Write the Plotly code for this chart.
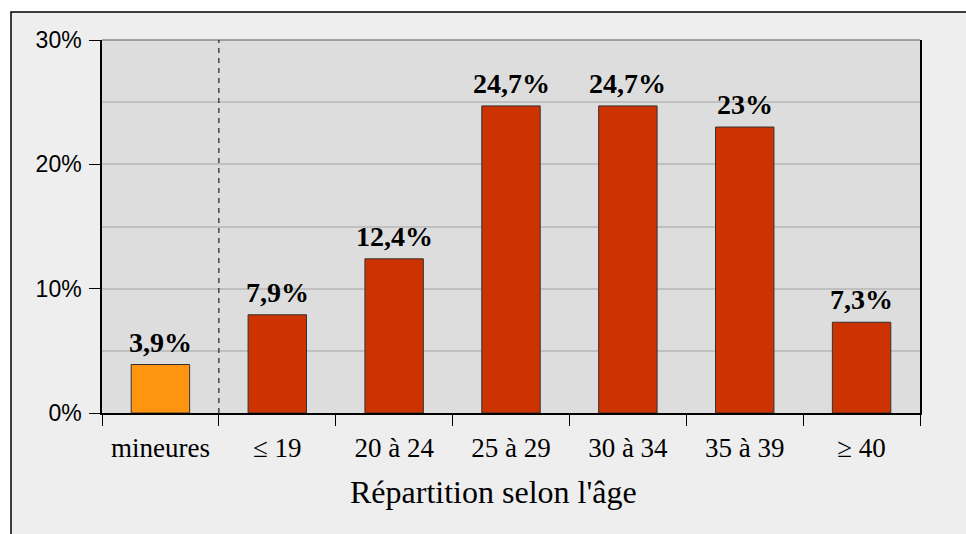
import plotly.graph_objects as go

categories = ["mineures", "≤ 19", "20 à 24", "25 à 29", "30 à 34", "35 à 39", "≥ 40"]
values = [3.9, 7.9, 12.4, 24.7, 24.7, 23, 7.3]
bar_colors = ["#ff9410", "#cc3300", "#cc3300", "#cc3300", "#cc3300", "#cc3300", "#cc3300"]
y_ticks = [0, 10, 20, 30]

labels = [f"{v:g}".replace(".", ",") + "%" for v in values]

# pixel geometry of the plot area, used to place paper shapes
W, H = 966, 534
L, R, T, B = 102, 920, 40, 413
pw, ph = R - L, B - T


def px_x(p):
    return (p - L) / pw


def px_y(p):
    return (B - p) / ph


fig = go.Figure()
fig.add_trace(go.Bar(
    x=categories, y=values, width=0.5,
    marker=dict(color=bar_colors, line=dict(color="#333333", width=1)),
))

# value labels above the bars
for cat, v, lab in zip(categories, values, labels):
    fig.add_annotation(x=cat, y=v, text=lab, showarrow=False,
                       yanchor="bottom", yshift=5,
                       font=dict(family="Liberation Serif", size=28, color="black",
                                 weight="bold"))

# outer frame and plot background
fig.add_shape(type="rect", xref="paper", yref="paper", layer="below",
              x0=px_x(11), x1=px_x(W + 10), y0=px_y(H + 10), y1=px_y(12),
              fillcolor="#eeeeee", line=dict(color="black", width=1.5))
fig.add_shape(type="rect", xref="paper", yref="paper", layer="below",
              x0=0, x1=1, y0=0, y1=1, fillcolor="#dddddd", line_width=0)
# top border of plot area
fig.add_shape(type="line", xref="paper", yref="paper", x0=0, x1=1, y0=1, y1=1,
              line=dict(color="#888888", width=1.5))
# dashed separator after "mineures"
fig.add_shape(type="line", xref="x", yref="paper", x0=0.5, x1=0.5, y0=0, y1=1,
              line=dict(color="#222222", width=1.2, dash="5px,5px"))

fig.add_annotation(text="Répartition selon l'âge", xref="paper", yref="paper",
                   x=px_x(493), y=px_y(492), xanchor="center", yanchor="middle",
                   showarrow=False,
                   font=dict(family="Liberation Serif", size=32, color="black"))

fig.update_layout(
    width=W, height=H,
    margin=dict(l=L, r=W - R, t=T, b=H - B, autoexpand=False),
    paper_bgcolor="white", plot_bgcolor="rgba(0,0,0,0)",
    showlegend=False,
    xaxis=dict(
        tickson="boundaries", ticks="outside", ticklen=11, tickcolor="black",
        showline=True, linecolor="black", linewidth=1.5, showgrid=False,
        ticklabelstandoff=10,
        tickfont=dict(family="Liberation Serif", size=27, color="black"),
    ),
    yaxis=dict(
        range=[0, 30], tickmode="array", tickvals=y_ticks,
        ticktext=[f"{v}%" for v in y_ticks],
        ticks="outside", ticklen=11, tickcolor="black",
        showline=True, linecolor="black", linewidth=1.5, mirror=True,
        gridcolor="#c0c0c0", gridwidth=1.5, zeroline=False,
        minor=dict(dtick=5, showgrid=True, gridcolor="#c0c0c0", gridwidth=1.5),
        ticklabelstandoff=3,
        tickfont=dict(family="Liberation Sans", size=23, color="black"),
    ),
)

fig.write_html("out.html", config={"displayModeBar": False},
               post_script="document.body.style.margin='0';")
